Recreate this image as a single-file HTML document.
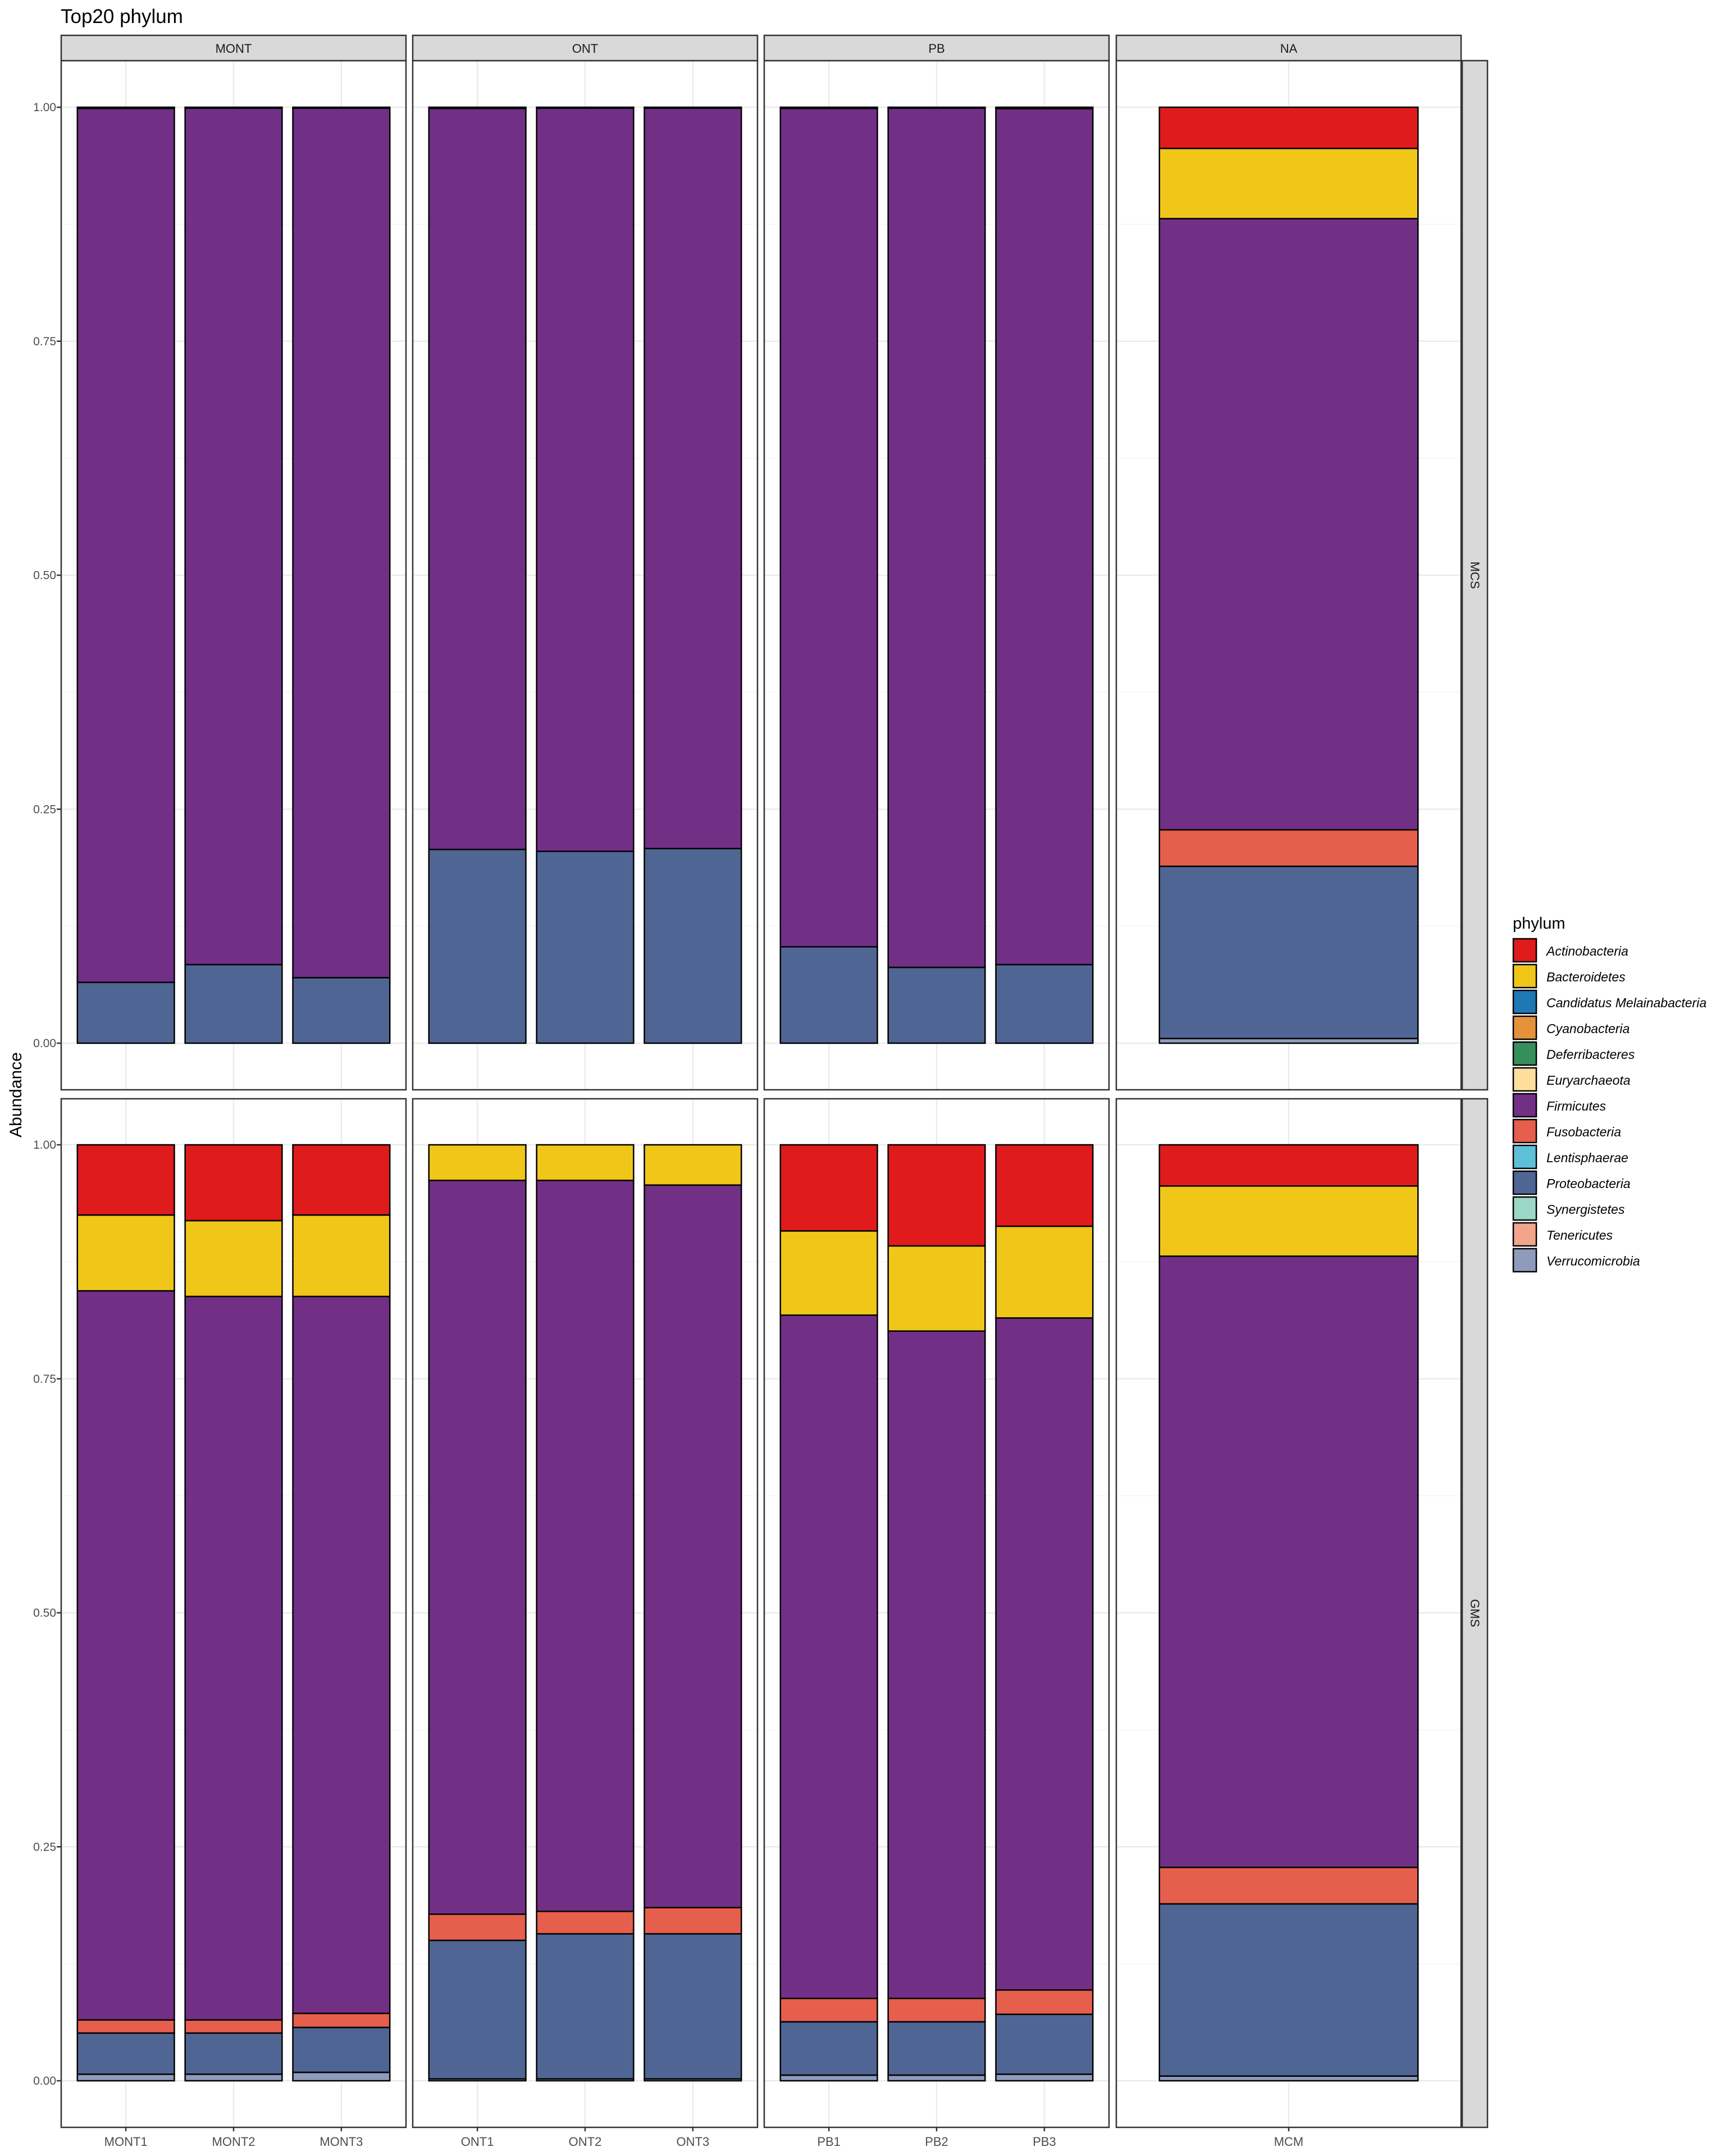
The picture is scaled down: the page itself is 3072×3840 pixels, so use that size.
<!DOCTYPE html>
<html><head><meta charset="utf-8"><title>Top20 phylum</title>
<style>
html,body{margin:0;padding:0;background:#fff;}
svg{display:block;font-family:"Liberation Sans",sans-serif;}
</style></head>
<body>
<svg id="chart" xmlns="http://www.w3.org/2000/svg" width="3072" height="3840" viewBox="0 0 3072 3840">
<rect x="0" y="0" width="3072" height="3840" fill="#fff"/>
<text x="108" y="41" font-size="35" fill="#000">Top20 phylum</text>
<text transform="translate(38,1950) rotate(-90)" text-anchor="middle" font-size="30" fill="#000">Abundance</text>
<g id="panels"></g>
<g id="legend"></g>
</svg>
<script>
// ---- data ----
const phyla = ["Actinobacteria","Bacteroidetes","Candidatus Melainabacteria","Cyanobacteria","Deferribacteres","Euryarchaeota","Firmicutes","Fusobacteria","Lentisphaerae","Proteobacteria","Synergistetes","Tenericutes","Verrucomicrobia"];
const colors = ["#E01B1C","#F0C619","#1F78B4","#E6923B","#358F5A","#FDDE9C","#722F86","#E65E4C","#5EC0D6","#4F6694","#9CD7C6","#F2A58B","#8E9BBB"];
const groups = ["MONT","ONT","PB","NA"];
const rows = ["MCS","GMS"];
const samples = [["MONT1","MONT2","MONT3"],["ONT1","ONT2","ONT3"],["PB1","PB2","PB3"],["MCM"]];
const yTicks = [0,0.25,0.5,0.75,1];
const yTickLabels = ["0.00","0.25","0.50","0.75","1.00"];
// values per sample: [Actino, Bacteroid, Candid, Cyano, Deferri, Eury, Firmic, Fuso, Lentis, Proteo, Synerg, Teneric, Verruco]
const mcsValues = {
  MONT1:[0.0005,0.0008,0,0,0,0,0.9337,0,0,0.065,0,0,0],
  MONT2:[0.0005,0.0005,0,0,0,0,0.915,0,0,0.084,0,0,0],
  MONT3:[0.0005,0.0005,0,0,0,0,0.929,0,0,0.070,0,0,0],
  ONT1:[0.0005,0.0008,0,0,0,0,0.7917,0,0,0.207,0,0,0],
  ONT2:[0.0005,0.0005,0,0,0,0,0.794,0,0,0.205,0,0,0],
  ONT3:[0.0005,0.0005,0,0,0,0,0.791,0,0,0.208,0,0,0],
  PB1:[0.0005,0.0008,0,0,0,0,0.8957,0,0,0.103,0,0,0],
  PB2:[0.0005,0.0005,0,0,0,0,0.918,0,0,0.081,0,0,0],
  PB3:[0.0005,0.001,0,0,0,0,0.9145,0,0,0.084,0,0,0],
  MCM:[0.044,0.075,0,0,0,0,0.653,0.039,0,0.184,0,0,0.005]
};
const gmsValues = {
  MONT1:[0.075,0.081,0,0,0,0,0.779,0.014,0,0.044,0,0,0.007],
  MONT2:[0.081,0.081,0,0,0,0,0.773,0.014,0,0.044,0,0,0.007],
  MONT3:[0.075,0.087,0,0,0,0,0.766,0.015,0,0.048,0,0,0.009],
  ONT1:[0,0.038,0,0,0,0,0.784,0.028,0,0.148,0,0,0.002],
  ONT2:[0,0.038,0,0,0,0,0.781,0.024,0,0.155,0,0,0.002],
  ONT3:[0,0.043,0,0,0,0,0.772,0.028,0,0.155,0,0,0.002],
  PB1:[0.092,0.090,0,0,0,0,0.730,0.025,0,0.057,0,0,0.006],
  PB2:[0.108,0.091,0,0,0,0,0.713,0.025,0,0.057,0,0,0.006],
  PB3:[0.087,0.098,0,0,0,0,0.718,0.026,0,0.064,0,0,0.007],
  MCM:[0.044,0.075,0,0,0,0,0.653,0.039,0,0.184,0,0,0.005]
};
const rowValues = [mcsValues, gmsValues];

// ---- layout ----
const NS = "http://www.w3.org/2000/svg";
const panelX = [109,735,1361,1988];
const panelW = 614;
const rowY0 = [191,2039];
const unitH = 1667;
const panelTop = [108,1957], panelBot = [1941,3789];
function mk(tag, attrs, parent){const e=document.createElementNS(NS,tag);for(const k in attrs)e.setAttribute(k,attrs[k]);parent.appendChild(e);return e;}
function yScale(r,v){return rowY0[r] + (1-v)*unitH;}
function xScale(g,i){const n=samples[g].length;const u=panelW/(n-1+1.2);return panelX[g]+(0.6+i)*u;}
function bandW(g){const n=samples[g].length;return 0.9*panelW/(n-1+1.2);}

const P = document.getElementById('panels');
for(let r=0;r<2;r++){
  for(let t=0;t<yTicks.length;t++){
    const y=yScale(r,yTicks[t]);
    const tl=mk('text',{x:100,y:y+7,'text-anchor':'end','font-size':21,fill:'#4D4D4D'},P);
    tl.textContent=yTickLabels[t];
    
    
    mk('line',{x1:101,x2:109,y1:y,y2:y,stroke:'#333',"stroke-width":2.5},P);
  }
  for(let g=0;g<4;g++){
    const pg=mk('g',{},P);
    
    
    const py=panelTop[r], ph=panelBot[r]-panelTop[r];
    mk('rect',{x:panelX[g],y:py,width:panelW,height:ph,fill:'#fff'},pg);
    for(let t=0;t<yTicks.length-1;t++){
      const y=yScale(r,(yTicks[t]+yTicks[t+1])/2);
      mk('line',{x1:panelX[g],x2:panelX[g]+panelW,y1:y,y2:y,stroke:'#F2F2F2','stroke-width':1.2},pg);
    }
    for(let t=0;t<yTicks.length;t++){
      const y=yScale(r,yTicks[t]);
      mk('line',{x1:panelX[g],x2:panelX[g]+panelW,y1:y,y2:y,stroke:'#EBEBEB','stroke-width':2.4},pg);
    }
    for(let i=0;i<samples[g].length;i++){
      const x=xScale(g,i);
      mk('line',{x1:x,x2:x,y1:py,y2:py+ph,stroke:'#EBEBEB','stroke-width':2.4},pg);
    }
    for(let i=0;i<samples[g].length;i++){
      const s=samples[g][i]; const vals=rowValues[r][s];
      const cx=xScale(g,i), bw=bandW(g);
      let cum=0;
      for(let k=phyla.length-1;k>=0;k--){
        const v=vals[k]; if(!v) continue;
        const y1=yScale(r,cum+v), y0=yScale(r,cum);
        const rc=mk('rect',{x:cx-bw/2,y:y1,width:bw,height:y0-y1,fill:colors[k],stroke:'#000','stroke-width':2.5},pg);
        
        
        cum+=v;
      }
    }
    mk('rect',{x:panelX[g],y:py,width:panelW,height:ph,fill:'none',stroke:'#333','stroke-width':2.5},pg);
    if(r===0){
      mk('rect',{x:panelX[g],y:63,width:panelW,height:45,fill:'#D9D9D9',stroke:'#333','stroke-width':2.5},pg);
      const st=mk('text',{x:panelX[g]+panelW/2,y:94,'text-anchor':'middle','font-size':22,fill:'#1A1A1A'},pg);
      st.textContent=groups[g];
      
      
    }
    if(r===1){
      for(let i=0;i<samples[g].length;i++){
        const x=xScale(g,i);
        mk('line',{x1:x,x2:x,y1:panelBot[1],y2:panelBot[1]+7,stroke:'#333','stroke-width':2.5},pg);
        const xl=mk('text',{x:x,y:3822,'text-anchor':'middle','font-size':22,fill:'#4D4D4D'},pg);
        xl.textContent=samples[g][i];
        
        
      }
    }
  }
  const rs=mk('rect',{x:2604,y:panelTop[r],width:45,height:panelBot[r]-panelTop[r],fill:'#D9D9D9',stroke:'#333','stroke-width':2.5},P);
  
  
  const cy=(panelTop[r]+panelBot[r])/2;
  const rt=mk('text',{x:0,y:0,transform:'translate(2619,'+cy+') rotate(90)','text-anchor':'middle','font-size':22,fill:'#1A1A1A'},P);
  rt.textContent=rows[r];
  
  
}

const L=document.getElementById('legend');
const lt=mk('text',{x:2694,y:1654,'font-size':29,fill:'#000'},L);
lt.textContent='phylum';


for(let k=0;k<phyla.length;k++){
  const y=1671+k*46;
  const eg=mk('g',{},L);
  
  
  mk('rect',{x:2695,y:y+1,width:41,height:41,fill:colors[k],stroke:'#000','stroke-width':2.5},eg);
  const tx=mk('text',{x:2754,y:y+31,'font-size':23,'font-style':'italic',fill:'#000'},eg);
  tx.textContent=phyla[k];
}
</script>
</body></html>
